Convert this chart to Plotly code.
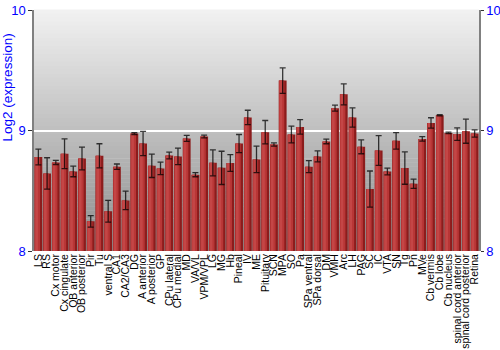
import plotly.graph_objects as go

categories = ["LS", "RS", "Cx motor", "Cx cingulate", "OB anterior", "OB posterior", "Pir", "Tu",
              "ventral S", "CA1", "CA2/CA3", "DG", "A anterior", "A posterior", "GP", "CPu lateral",
              "CPu medial", "MD", "VA/VL", "VPM/VPL", "LG", "MG", "Hb", "Pineal", "IV", "ME",
              "Pituitary", "SCN", "MPA", "SO", "Pa", "SPa ventral", "SPa dorsal", "DM", "VMH", "Arc",
              "LH", "PAG", "SC", "IC", "VTA", "SN", "Tg", "Pn", "MVe", "Cb vermis", "Cb lobe",
              "Cb nucleus", "spinal cord anterior", "spinal cord posterior", "Retina"]

values = [8.78, 8.644, 8.735, 8.807, 8.66, 8.768, 8.246, 8.79,
          8.33, 8.70, 8.42, 8.975, 8.892, 8.707, 8.685, 8.793,
          8.785, 8.934, 8.633, 8.95, 8.732, 8.69, 8.73, 8.892, 9.108, 8.76,
          8.986, 8.884, 9.414, 8.967, 9.03, 8.70, 8.785, 8.909, 9.185, 9.30,
          9.108, 8.865, 8.514, 8.834, 8.66, 8.914, 8.688, 8.558, 8.93, 9.063, 9.127,
          8.98, 8.97, 8.994, 8.975]

errors = [0.066, 0.13, 0.017, 0.124, 0.044, 0.094, 0.048, 0.10,
          0.09, 0.022, 0.077, 0.008, 0.10, 0.097, 0.052, 0.028,
          0.069, 0.025, 0.017, 0.011, 0.108, 0.138, 0.07, 0.075, 0.06, 0.11,
          0.097, 0.014, 0.106, 0.07, 0.06, 0.05, 0.046, 0.019, 0.025, 0.087,
          0.08, 0.058, 0.15, 0.124, 0.028, 0.069, 0.134, 0.039, 0.019, 0.043, 0.005,
          0.006, 0.052, 0.10, 0.03]

y_ticks = [8, 9, 10]
y_range = [8, 10]
y_title = "Log2 (expression)"

blue = "#0000ff"
fig = go.Figure()

# cylinder-like bar shading: dark base, lighter overlay on the left
fig.add_trace(go.Bar(x=categories, y=values, width=0.9, offset=-0.45,
                     marker=dict(color="#8c1c1c", line=dict(width=0)), hoverinfo="skip"))
fig.add_trace(go.Bar(x=categories, y=values, width=0.62, offset=-0.43,
                     marker=dict(color="#b83636", line=dict(width=0)), hoverinfo="skip"))
fig.add_trace(go.Bar(x=categories, y=values, width=0.3, offset=-0.35,
                     marker=dict(color="#c44646", line=dict(width=0)), hoverinfo="skip"))
# error bars centred on each category
fig.add_trace(go.Scatter(x=categories, y=values, mode="markers",
                         marker=dict(opacity=0, size=1),
                         error_y=dict(type="data", array=errors, visible=True,
                                      color="rgba(0,0,0,0.75)", thickness=1.3, width=3),
                         hoverinfo="skip"))
# invisible trace to anchor the right-hand axis
fig.add_trace(go.Scatter(x=categories, y=values, yaxis="y2", mode="markers",
                         marker=dict(opacity=0), hoverinfo="skip", showlegend=False))

# background vertical gradient
shapes = []
n = 60
top_c = 242
bot_c = 140
for i in range(n):
    t = (i + 0.5) / n
    c = int(round(top_c + (bot_c - top_c) * t))
    shapes.append(dict(type="rect", xref="paper", yref="paper",
                       x0=0, x1=1, y0=1 - (i + 1) / n, y1=1 - i / n + 0.002,
                       fillcolor=f"rgb({c},{c},{c})", line=dict(width=0), layer="below"))

fig.update_layout(
    width=500, height=350,
    margin=dict(l=34, r=21, t=10, b=99),
    paper_bgcolor="white", plot_bgcolor="white",
    barmode="overlay",
    showlegend=False,
    shapes=shapes,
    font=dict(family="Liberation Sans, Arial, sans-serif", size=10, color="#000000"),
    annotations=[dict(text=y_title, textangle=-90, xref="paper", yref="paper",
                      x=-0.06, y=0.68, xanchor="center", yanchor="middle", showarrow=False,
                      font=dict(size=13.5, color=blue))],
    xaxis=dict(tickangle=-90, tickfont=dict(size=10.5, color="#000000"), showgrid=False,
               tickmode="array", tickvals=categories, ticktext=categories,
               showline=False, ticks="", zeroline=False, automargin=False,
               range=[-0.5, len(categories) - 0.5]),
    yaxis=dict(range=y_range, tickvals=y_ticks, ticktext=[str(v) for v in y_ticks],
               tickfont=dict(size=13, color=blue), automargin=False,
               showgrid=True, gridcolor="white", gridwidth=2, zeroline=False,
               showline=True, linecolor="#808080", linewidth=1.5,
               ticks="outside", ticklen=4, tickcolor="#333333"),
    yaxis2=dict(range=y_range, tickvals=y_ticks, ticktext=[str(v) for v in y_ticks],
                overlaying="y", side="right", tickfont=dict(size=13, color=blue),
                automargin=False,
                showgrid=False, zeroline=False, showline=True, linecolor="#808080",
                linewidth=1.5, ticks="outside", ticklen=3, tickcolor="#333333"),
)

fig.write_html("out.html")
